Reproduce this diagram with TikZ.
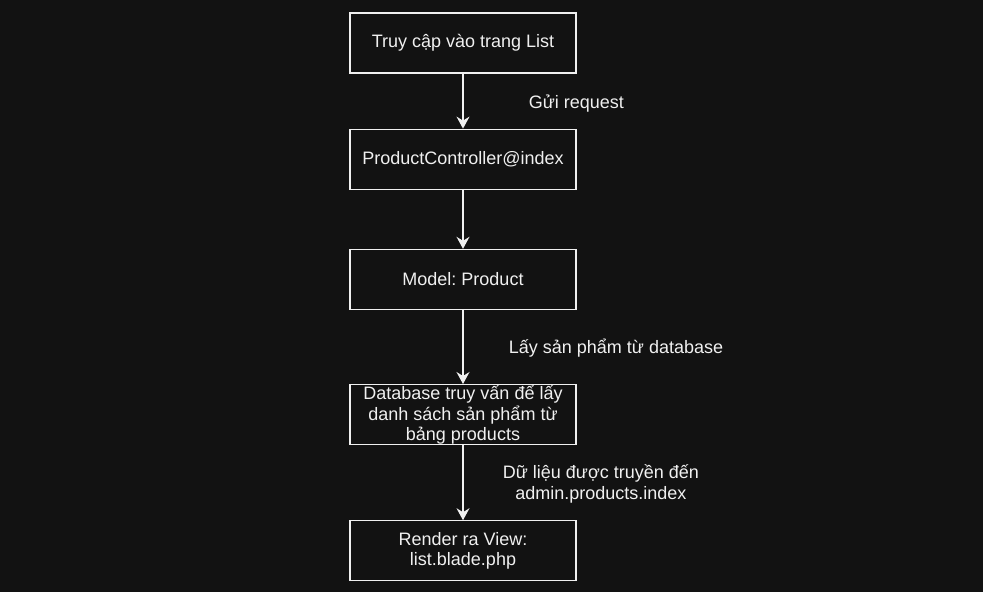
\documentclass[tikz,border=0pt]{standalone}
\usepackage{fontspec}
\setmainfont{Liberation Sans}
\usetikzlibrary{positioning,arrows.meta}
\definecolor{bgdark}{HTML}{121212}
\definecolor{fgline}{HTML}{F0F0F0}
\frenchspacing

\begin{document}
\begin{tikzpicture}[x=1pt, y=-1pt, node distance=56pt,
  block/.style={draw=fgline, fill=bgdark, line width=1.2pt, minimum width=226pt, minimum height=60pt, text=fgline, align=center, font=\fontsize{18}{20.5}\selectfont, inner sep=0pt},
  flow/.style={draw=fgline, line width=1.2pt, -{Stealth[length=12pt,width=13pt,inset=4pt]}},
  lbl/.style={text=fgline, align=center, font=\fontsize{18}{20.5}\selectfont, anchor=west}]

  % Background
  \fill[bgdark] (0,0) rectangle (983,592);
  \useasboundingbox (0,0) rectangle (983,592);

  % Boxes
  \node[block] (S1) at (463,43) {Truy cập vào trang List};
  \node[block, below=55pt of S1] (S2) {ProductController@index};
  \node[block, below=59pt of S2] (S3) {Model: Product};
  \node[block, below=74pt of S3] (S4) {Database truy vấn để lấy\\danh sách sản phẩm từ\\bảng products};
  \node[block, below=75pt of S4] (S5) {Render ra View:\\list.blade.php};

  % Arrows with labels
  \draw[flow] (S1) -- node[lbl, xshift=62pt, yshift=-2pt] (L1) {Gửi request} (S2);
  \draw[flow] (S2) -- (S3);
  \draw[flow] (S3) -- node[lbl, xshift=42pt, yshift=-1pt] (L2) {Lấy sản phẩm từ database} (S4);
  \draw[flow] (S4) -- node[lbl, xshift=36pt, yshift=-1pt] (L3) {Dữ liệu được truyền đến\\admin.products.index} (S5);

\end{tikzpicture}
\end{document}
